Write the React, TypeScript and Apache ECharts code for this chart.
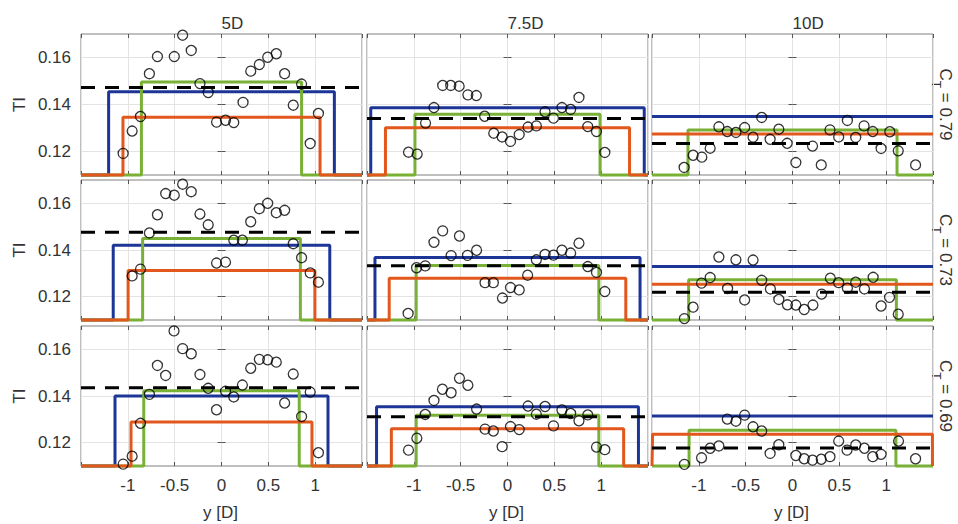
import React, { useEffect, useRef } from "react";
import * as echarts from "echarts";

// Column titles (downstream distance) and row labels (thrust coefficient)
const distances = ["5D", "7.5D", "10D"];
const thrustCoefs = ["0.79", "0.73", "0.69"];

// Axis ticks
const xTicks = [-1, -0.5, 0, 0.5, 1];
const yTicks = [0.12, 0.14, 0.16];

// Measured turbulence intensity, [y/D, TI], one list per panel (row-major)
const meas5D_079 = [
  [-1.05, 0.1192], [-0.954, 0.1287], [-0.865, 0.1349], [-0.77, 0.1531], [-0.684, 0.1604],
  [-0.504, 0.1604], [-0.415, 0.1695], [-0.323, 0.163], [-0.23, 0.1489], [-0.142, 0.1451],
  [-0.053, 0.1325], [0.043, 0.1333], [0.131, 0.1323], [0.23, 0.1409], [0.312, 0.1542],
  [0.404, 0.157], [0.493, 0.1601], [0.585, 0.1616], [0.674, 0.1531], [0.766, 0.1397],
  [0.855, 0.1487], [0.947, 0.1234], [1.035, 0.1362],
];
const meas75D_079 = [
  [-1.057, 0.1197], [-0.964, 0.1189], [-0.875, 0.1321], [-0.785, 0.1387], [-0.692, 0.1481],
  [-0.606, 0.1481], [-0.516, 0.1478], [-0.423, 0.1441], [-0.333, 0.1438], [-0.244, 0.135],
  [-0.147, 0.1278], [-0.057, 0.1262], [0.032, 0.1243], [0.125, 0.1272], [0.219, 0.1304],
  [0.308, 0.1309], [0.401, 0.1369], [0.491, 0.1342], [0.581, 0.1387], [0.674, 0.1379],
  [0.763, 0.143], [0.857, 0.1306], [0.95, 0.1285], [1.039, 0.1196],
];
const meas10D_079 = [
  [-1.157, 0.1132], [-1.061, 0.1184], [-0.968, 0.1176], [-0.879, 0.1214], [-0.786, 0.1305],
  [-0.696, 0.1285], [-0.604, 0.1281], [-0.511, 0.1302], [-0.421, 0.1261], [-0.329, 0.1345],
  [-0.239, 0.1252], [-0.146, 0.1295], [-0.057, 0.1235], [0.036, 0.1153], [0.214, 0.1223],
  [0.307, 0.1143], [0.4, 0.1292], [0.493, 0.1262], [0.586, 0.1332], [0.675, 0.126],
  [0.764, 0.1309], [0.857, 0.1285], [0.946, 0.1213], [1.039, 0.1284], [1.129, 0.1203],
  [1.314, 0.1143],
];
const meas5D_073 = [
  [-0.954, 0.1289], [-0.865, 0.1318], [-0.77, 0.1473], [-0.684, 0.1551], [-0.596, 0.1642],
  [-0.504, 0.1635], [-0.415, 0.1682], [-0.323, 0.165], [-0.23, 0.1554], [-0.142, 0.1508],
  [-0.053, 0.1344], [0.043, 0.1348], [0.131, 0.1442], [0.223, 0.1442], [0.312, 0.1521],
  [0.404, 0.1577], [0.493, 0.16], [0.585, 0.156], [0.674, 0.157], [0.766, 0.1427],
  [0.855, 0.1367], [0.947, 0.1302], [1.035, 0.1262],
];
const meas75D_073 = [
  [-1.061, 0.1128], [-0.971, 0.1324], [-0.878, 0.1332], [-0.785, 0.1433], [-0.692, 0.1482],
  [-0.602, 0.1376], [-0.513, 0.146], [-0.427, 0.1377], [-0.33, 0.1399], [-0.24, 0.126],
  [-0.151, 0.126], [-0.054, 0.1194], [0.032, 0.1239], [0.125, 0.1229], [0.215, 0.1292],
  [0.308, 0.1358], [0.401, 0.1381], [0.491, 0.1378], [0.581, 0.1399], [0.674, 0.1387],
  [0.763, 0.1429], [0.857, 0.1329], [0.95, 0.1304], [1.039, 0.1222],
];
const meas10D_073 = [
  [-1.154, 0.1106], [-1.061, 0.1155], [-0.971, 0.1258], [-0.879, 0.1282], [-0.786, 0.137],
  [-0.693, 0.1235], [-0.604, 0.1358], [-0.511, 0.1186], [-0.421, 0.1357], [-0.329, 0.127],
  [-0.236, 0.1233], [-0.146, 0.1188], [-0.054, 0.1165], [0.036, 0.1164], [0.125, 0.1145],
  [0.218, 0.1164], [0.311, 0.1211], [0.404, 0.1279], [0.493, 0.126], [0.586, 0.1236],
  [0.675, 0.1262], [0.768, 0.1233], [0.861, 0.1283], [0.946, 0.116], [1.036, 0.1197],
  [1.129, 0.1125],
];
const meas5D_069 = [
  [-1.05, 0.1108], [-0.954, 0.1142], [-0.865, 0.1283], [-0.77, 0.1407], [-0.684, 0.1531],
  [-0.596, 0.1488], [-0.507, 0.1679], [-0.415, 0.1603], [-0.323, 0.1581], [-0.23, 0.1492],
  [-0.142, 0.1433], [-0.053, 0.1341], [0.043, 0.142], [0.131, 0.1396], [0.223, 0.1447],
  [0.312, 0.1519], [0.404, 0.1557], [0.493, 0.1555], [0.585, 0.1545], [0.674, 0.137],
  [0.766, 0.1494], [0.855, 0.1312], [0.947, 0.1417], [1.035, 0.1157],
];
const meas75D_069 = [
  [-1.057, 0.1168], [-0.968, 0.1219], [-0.878, 0.1321], [-0.785, 0.1381], [-0.695, 0.1429],
  [-0.602, 0.1414], [-0.513, 0.1476], [-0.423, 0.1446], [-0.33, 0.1344], [-0.24, 0.1258],
  [-0.151, 0.125], [-0.057, 0.1183], [0.032, 0.1269], [0.125, 0.1256], [0.219, 0.1357],
  [0.308, 0.1322], [0.401, 0.1355], [0.491, 0.1272], [0.581, 0.134], [0.674, 0.1325],
  [0.763, 0.1294], [0.857, 0.1319], [0.95, 0.1181], [1.039, 0.117],
];
const meas10D_069 = [
  [-1.154, 0.1107], [-0.971, 0.1135], [-0.879, 0.1176], [-0.786, 0.1186], [-0.696, 0.1301],
  [-0.604, 0.1292], [-0.511, 0.1318], [-0.421, 0.1268], [-0.329, 0.125], [-0.239, 0.1154],
  [-0.146, 0.1191], [0.036, 0.1145], [0.125, 0.1131], [0.214, 0.1125], [0.307, 0.1129],
  [0.4, 0.114], [0.493, 0.1207], [0.582, 0.1168], [0.675, 0.119], [0.768, 0.1176],
  [0.857, 0.114], [0.946, 0.115], [1.132, 0.1207], [1.314, 0.1131],
];
const measured = [
  meas5D_079, meas75D_079, meas10D_079,
  meas5D_073, meas75D_073, meas10D_073,
  meas5D_069, meas75D_069, meas10D_069,
];

// Top-hat wake models: plateau level and half-width (null = wider than the plot)
const blueLevel = [0.1454, 0.1386, 0.1349, 0.142, 0.1368, 0.1329, 0.14, 0.1354, 0.1314];
const blueHalf = [1.205, 1.46, null, 1.156, 1.415, null, 1.137, 1.398, null];
const greenLevel = [0.1496, 0.1359, 0.1291, 0.1449, 0.1334, 0.1272, 0.1422, 0.1318, 0.1253];
const greenHalf = [0.855, 0.988, 1.116, 0.842, 0.975, 1.109, 0.83, 0.975, 1.104];
const orangeLevel = [0.1346, 0.1301, 0.1274, 0.1312, 0.1279, 0.1253, 0.1289, 0.126, 0.1236];
const orangeHalf = [1.052, 1.303, null, 0.997, 1.263, null, 0.966, 1.24, 1.494];
// Lateral mean of the measured TI (dashed)
const meanTI = [0.1472, 0.134, 0.1234, 0.1476, 0.1332, 0.1219, 0.1435, 0.1311, 0.1177];

const X_MIN = -1.5;
const X_MAX = 1.5;
const Y_MIN = 0.11;
const Y_MAX = 0.17;

const FONT = "'Liberation Sans', Arial, Helvetica, sans-serif";
const TEXT = "#333333";
const BLUE = "#1c3597";
const ORANGE = "#e2571c";
const GREEN = "#79b136";

const colLeft = [81, 367, 652];
const rowTop = [34, 180, 326];
const rowHeight = [141, 140, 140];
const panelWidth = 281;

function topHat(half: number | null, level: number): number[][] {
  if (half === null) return [[X_MIN, level], [X_MAX, level]];
  return [
    [X_MIN, Y_MIN], [-half, Y_MIN], [-half, level],
    [half, level], [half, Y_MIN], [X_MAX, Y_MIN],
  ];
}

function buildOption(): any {
  const grid: any[] = [];
  const xAxis: any[] = [];
  const yAxis: any[] = [];
  const series: any[] = [];
  const graphic: any[] = [];

  const tick = { show: true, inside: true, length: 4, lineStyle: { color: "#555", width: 1 } };

  for (let r = 0; r < 3; r++) {
    for (let c = 0; c < 3; c++) {
      const i = r * 3 + c;
      grid.push({
        left: colLeft[c], top: rowTop[r], width: panelWidth, height: rowHeight[r],
        show: true, borderColor: "#808080", borderWidth: 1, backgroundColor: "#ffffff",
        containLabel: false,
      });
      // bottom / top x axes
      xAxis.push({
        gridIndex: i, type: "value", min: X_MIN, max: X_MAX, interval: 0.5,
        axisLine: { show: false }, axisTick: tick,
        axisLabel: {
          show: r === 2, margin: 11, fontSize: 17, fontFamily: FONT, color: TEXT,
          formatter: (v: number) => (xTicks.some((t) => Math.abs(t - v) < 1e-6) ? String(v) : ""),
        },
        splitLine: { show: true, lineStyle: { color: "#e3e3e3", width: 1 } },
      });
      xAxis.push({
        gridIndex: i, type: "value", position: "top", min: X_MIN, max: X_MAX, interval: 0.5,
        axisLine: { show: false }, axisTick: tick, axisLabel: { show: false },
        splitLine: { show: false },
      });
      // left / right y axes
      yAxis.push({
        gridIndex: i, type: "value", min: Y_MIN, max: Y_MAX, splitNumber: 3,
        axisLine: { show: false },
        axisTick: { ...tick, customValues: yTicks },
        axisLabel: {
          show: c === 0, margin: 10, fontSize: 17, fontFamily: FONT, color: TEXT,
          customValues: yTicks,
          formatter: (v: number) => (yTicks.some((t) => Math.abs(t - v) < 1e-6) ? v.toFixed(2) : ""),
        },
        splitLine: { show: true, lineStyle: { color: "#e3e3e3", width: 1 } },
      });
      yAxis.push({
        gridIndex: i, type: "value", position: "right", min: Y_MIN, max: Y_MAX, splitNumber: 3,
        axisLine: { show: false },
        axisTick: { ...tick, customValues: yTicks },
        axisLabel: { show: false, customValues: yTicks },
        splitLine: { show: false },
      });

      const ax = { xAxisIndex: 2 * i, yAxisIndex: 2 * i };
      const lineBase = { type: "line", ...ax, symbol: "none", clip: false, silent: true };
      series.push({ ...lineBase, name: "blue" + i, data: topHat(blueHalf[i], blueLevel[i]),
        lineStyle: { color: BLUE, width: 3 }, z: 2 });
      series.push({ ...lineBase, name: "green" + i, data: topHat(greenHalf[i], greenLevel[i]),
        lineStyle: { color: GREEN, width: 3 }, z: 2 });
      series.push({ ...lineBase, name: "orange" + i, data: topHat(orangeHalf[i], orangeLevel[i]),
        lineStyle: { color: ORANGE, width: 3 }, z: 2 });
      series.push({ ...lineBase, name: "mean" + i,
        data: [[X_MIN, meanTI[i]], [X_MAX, meanTI[i]]],
        lineStyle: { color: "#000", width: 3, type: [14, 10] }, z: 3 });
      series.push({
        type: "scatter", ...ax, name: "meas" + i, data: measured[i], symbol: "circle",
        symbolSize: 10, silent: true, clip: false, z: 4,
        itemStyle: { color: "rgba(0,0,0,0)", borderColor: "#000", borderWidth: 1.3 },
      });
    }
  }

  // column titles, left-aligned at panel centre
  for (let c = 0; c < 3; c++) {
    const cx = colLeft[c] + panelWidth / 2;
    graphic.push({
      type: "text", x: cx, y: 23,
      style: { text: distances[c], fontSize: 17, fontFamily: FONT, fill: TEXT,
        align: "left", verticalAlign: "middle" },
    });
    graphic.push({
      type: "text", x: cx - 1, y: 512,
      style: { text: "y [D]", fontSize: 17, fontFamily: FONT, fill: TEXT,
        align: "center", verticalAlign: "middle" },
    });
  }
  // row labels
  for (let r = 0; r < 3; r++) {
    const cy = rowTop[r] + rowHeight[r] / 2;
    graphic.push({
      type: "text", x: 19, y: cy, rotation: Math.PI / 2,
      style: { text: "TI", fontSize: 17, fontFamily: FONT, fill: TEXT,
        align: "center", verticalAlign: "middle" },
    });
    graphic.push({
      type: "text", x: 945, y: cy, rotation: -Math.PI / 2,
      style: {
        text: "{c|C}{t|T}{c| = " + thrustCoefs[r] + "}",
        align: "center", verticalAlign: "middle",
        rich: {
          c: { fontSize: 17, fontFamily: FONT, fill: TEXT, lineHeight: 30, verticalAlign: "middle" },
          t: { fontSize: 12, fontFamily: FONT, fill: TEXT, lineHeight: 12, verticalAlign: "bottom" },
        },
      },
    });
  }

  return { animation: false, backgroundColor: "#ffffff", grid, xAxis, yAxis, series, graphic };
}

export default function App() {
  const ref = useRef<HTMLDivElement>(null);
  useEffect(() => {
    if (!ref.current) return;
    const chart = echarts.init(ref.current, undefined, { renderer: "svg" });
    chart.setOption(buildOption());
    return () => chart.dispose();
  }, []);
  return (
    <div
      ref={ref}
      style={{ position: "absolute", left: 0, top: 0, width: 958, height: 524, background: "#fff" }}
    />
  );
}
